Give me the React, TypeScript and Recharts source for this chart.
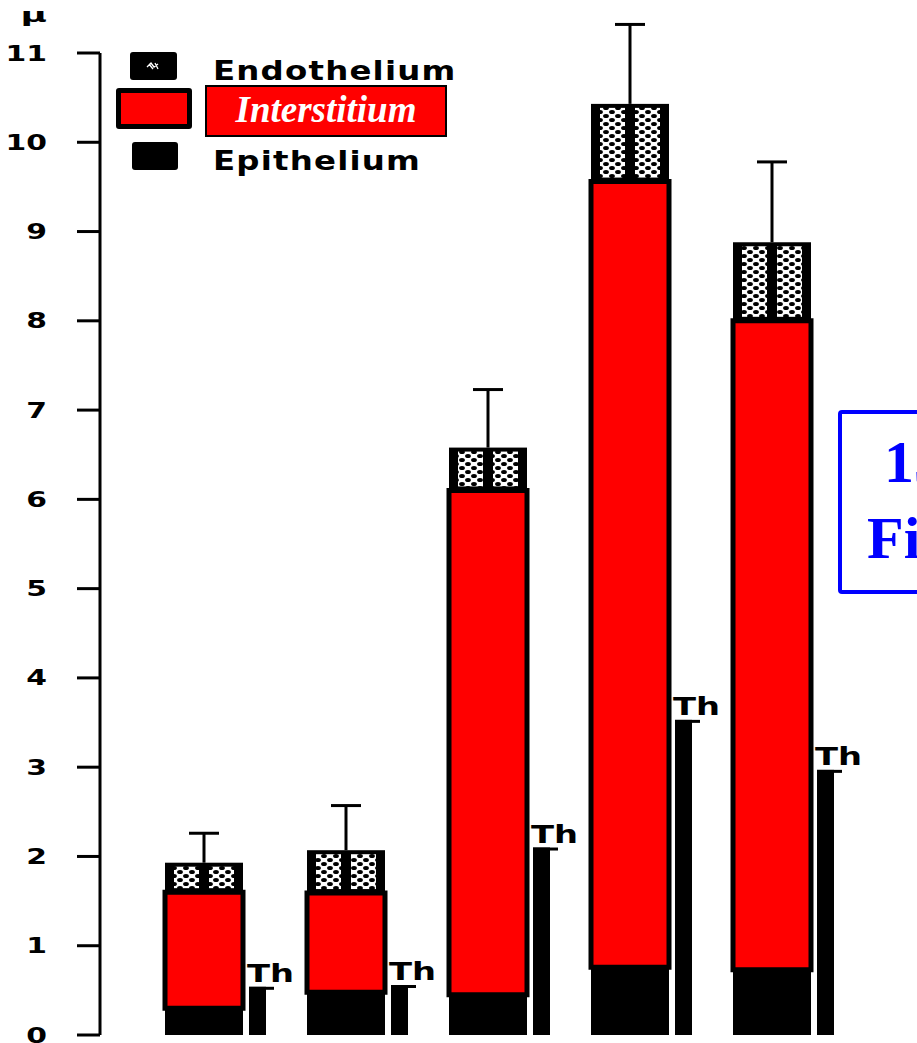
import React from "react";
import { BarChart, Bar, XAxis, YAxis, Legend, LabelList, Label } from "recharts";

// wall layer thickness (µ) per group, stacked bottom to top
const groups = ["1", "2", "3", "4", "5"];
const epithelium = [0.3, 0.48, 0.45, 0.76, 0.73];
const interstitium = [1.3, 1.11, 5.65, 8.8, 7.27];
const endothelium = [0.33, 0.48, 0.48, 0.87, 0.88];
const errorUp = [0.33, 0.5, 0.65, 0.89, 0.9];
const thValues = [0.54, 0.56, 2.1, 3.53, 2.97];
const yTicks = [0, 1, 2, 3, 4, 5, 6, 7, 8, 9, 10, 11];

const data = groups.map((g, i) => ({
  group: g,
  epithelium: epithelium[i],
  interstitium: interstitium[i],
  endothelium: endothelium[i],
  err: errorUp[i],
  th: thValues[i],
}));

const sans = "'DejaVu Sans', sans-serif";
const serif = "'Liberation Serif', 'Times New Roman', serif";

// hatched endothelium block: black frame, two chain-link columns, and the upward SD whisker
const EndoShape = (props: any) => {
  const { x, y, width, height, payload, value } = props;
  const span = Array.isArray(value) ? value[1] - value[0] : value;
  const errPx = span ? (payload.err / span) * height : 0;
  const cx = x + width / 2;
  const padX = 9;
  const padY = 4;
  const gap = 10;
  const colW = (width - 2 * padX - gap) / 2;
  const innerH = Math.max(height - 2 * padY, 0);
  return (
    <g>
      <defs>
        <pattern id="chain" width={12} height={8} patternUnits="userSpaceOnUse">
          <rect width={12} height={8} fill="#fff" />
          <ellipse cx={0} cy={0} rx={2.9} ry={2.1} fill="#000" />
          <ellipse cx={12} cy={0} rx={2.9} ry={2.1} fill="#000" />
          <ellipse cx={6} cy={4} rx={2.9} ry={2.1} fill="#000" />
          <ellipse cx={0} cy={8} rx={2.9} ry={2.1} fill="#000" />
          <ellipse cx={12} cy={8} rx={2.9} ry={2.1} fill="#000" />
        </pattern>
      </defs>
      <rect x={x} y={y} width={width} height={height} fill="#000" />
      <rect x={x + padX} y={y + padY} width={colW} height={innerH} fill="url(#chain)" />
      <rect x={x + padX + colW + gap} y={y + padY} width={colW} height={innerH} fill="url(#chain)" />
      <line x1={cx} x2={cx} y1={y} y2={y - errPx} stroke="#000" strokeWidth={3} />
      <line x1={cx - 15} x2={cx + 15} y1={y - errPx} y2={y - errPx} stroke="#000" strokeWidth={3} />
    </g>
  );
};

// thickness bar with the small flag at its top
const ThShape = (props: any) => {
  const { x, y, width, height } = props;
  return (
    <g>
      <rect x={x} y={y} width={width} height={height} fill="#000" />
      <rect x={x} y={y} width={width + 8} height={3} fill="#000" />
    </g>
  );
};

const ThLabel = (props: any) => {
  const { x, y } = props;
  return (
    <text
      transform={`translate(${x - 2},${y - 5}) scale(1.35,1)`}
      fontFamily={sans}
      fontWeight="bold"
      fontSize={25}
      fill="#000"
    >
      Th
    </text>
  );
};

// wide, heavy tick numerals
const YTick = (props: any) => {
  const { x, y, payload } = props;
  return (
    <text
      transform={`translate(${x},${y}) scale(1.42,1)`}
      textAnchor="end"
      dy="0.36em"
      fontFamily={sans}
      fontWeight="bold"
      fontSize={21}
      fill="#000"
    >
      {payload.value}
    </text>
  );
};

const swatchBox: React.CSSProperties = { position: "absolute", background: "#000", borderRadius: 3 };
const legendText: React.CSSProperties = {
  position: "absolute",
  fontFamily: sans,
  fontWeight: "bold",
  fontSize: 27,
  letterSpacing: 1,
  color: "#000",
  lineHeight: 1,
  whiteSpace: "nowrap",
  transform: "scaleX(1.2)",
  transformOrigin: "left top",
};

const renderLegend = () => (
  <div style={{ position: "relative", width: 460, height: 180 }}>
    <div style={{ ...swatchBox, left: 130, top: 52, width: 47, height: 28 }}>
      <svg style={{ position: "absolute", left: 16, top: 9 }} width={14} height={10}>
        <rect width={14} height={10} fill="#000" />
        <path d="M1 6 L5 2 L8 6 L12 3 M3 3 L7 8 M9 2 L12 8" stroke="#fff" strokeWidth={1.3} fill="none" />
      </svg>
    </div>
    <div style={{ ...legendText, left: 213, top: 57 }}>Endothelium</div>
    <div
      style={{
        position: "absolute",
        left: 116,
        top: 88,
        width: 66,
        height: 31,
        background: "#ff0000",
        border: "5px solid #000",
        borderRadius: 3,
      }}
    />
    <div
      style={{
        position: "absolute",
        left: 205,
        top: 85,
        width: 238,
        height: 48,
        background: "#ff0000",
        border: "2px solid #000",
        fontFamily: serif,
        fontStyle: "italic",
        fontWeight: "bold",
        fontSize: 37,
        color: "#fff",
        textAlign: "center",
        lineHeight: "46px",
      }}
    >
      Interstitium
    </div>
    <div style={{ ...swatchBox, left: 132, top: 142, width: 46, height: 28 }} />
    <div style={{ ...legendText, left: 213, top: 147 }}>Epithelium</div>
  </div>
);

export default function App() {
  return (
    <div
      style={{
        position: "absolute",
        left: 0,
        top: 0,
        width: 917,
        height: 1043,
        overflow: "hidden",
        background: "#fff",
      }}
    >
      <BarChart
        width={917}
        height={1043}
        data={data}
        margin={{ top: 53, right: 0, bottom: 8, left: 0 }}
        barGap={6}
      >
        <XAxis
          dataKey="group"
          padding={{ left: 44, right: 63 }}
          tick={false}
          tickLine={false}
          height={0}
          axisLine={{ stroke: "#000", strokeWidth: 3 }}
        />
        <YAxis
          width={100}
          domain={[0, 11]}
          ticks={yTicks}
          interval={0}
          tickSize={23}
          tickMargin={30}
          axisLine={{ stroke: "#000", strokeWidth: 3 }}
          tickLine={{ stroke: "#000", strokeWidth: 3 }}
          tick={YTick}
        >
          <Label
            content={() => (
              <text
                transform="translate(47,22) scale(1.8,1)"
                textAnchor="end"
                fontFamily={sans}
                fontWeight="bold"
                fontSize={20}
                fill="#000"
              >
                µ
              </text>
            )}
          />
        </YAxis>
        <Legend
          layout="horizontal"
          verticalAlign="middle"
          align="center"
          wrapperStyle={{ left: 0, top: 0, width: 460, height: 180 }}
          content={renderLegend}
        />
        <Bar dataKey="epithelium" stackId="wall" barSize={78} fill="#000" isAnimationActive={false} />
        <Bar
          dataKey="interstitium"
          stackId="wall"
          barSize={78}
          fill="#ff0000"
          stroke="#000"
          strokeWidth={5}
          isAnimationActive={false}
        />
        <Bar
          dataKey="endothelium"
          stackId="wall"
          barSize={78}
          fill="#000"
          shape={EndoShape}
          isAnimationActive={false}
        />
        <Bar dataKey="th" barSize={17} fill="#000" shape={ThShape} isAnimationActive={false}>
          <LabelList dataKey="th" content={ThLabel} />
        </Bar>
      </BarChart>
      <div
        style={{
          position: "absolute",
          left: 838,
          top: 410,
          width: 200,
          height: 176,
          border: "4px solid #0000ff",
          borderRadius: 4,
          color: "#0000ff",
          fontFamily: serif,
          fontWeight: "bold",
          fontSize: 60,
          lineHeight: 1,
          whiteSpace: "nowrap",
        }}
      >
        <div style={{ position: "absolute", left: 42, top: 18 }}>15</div>
        <div style={{ position: "absolute", left: 25, top: 94 }}>Fig</div>
      </div>
    </div>
  );
}
